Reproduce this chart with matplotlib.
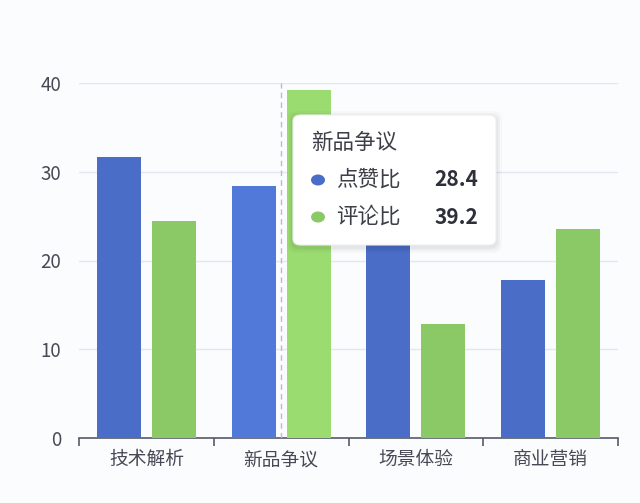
import matplotlib.pyplot as plt
import numpy as np
from matplotlib.patches import FancyBboxPatch, Circle

plt.rcParams['font.family'] = ['Noto Sans CJK SC', 'DejaVu Sans']

categories = ['技术解析', '新品争议', '场景体验', '商业营销']
likes = [31.7, 28.4, 26.0, 17.8]      # 点赞比
comments = [24.5, 39.2, 12.8, 23.5]   # 评论比
yticks = [0, 10, 20, 30, 40]
hover = 1  # highlighted category

blue, green = '#4a6dc8', '#8bc866'
blue_hi, green_hi = '#5079d9', '#9bdc71'

fig = plt.figure(figsize=(6.4, 5.03), dpi=100)
fig.patch.set_facecolor('#fbfcfe')
ax = fig.add_axes([79 / 640, 65 / 503, 539 / 640, 355 / 503])
ax.set_facecolor('#fbfcfe')

x = np.arange(len(categories))
w = 0.327
off = 0.204
bc = [blue_hi if i == hover else blue for i in x]
gc = [green_hi if i == hover else green for i in x]
ax.bar(x - off, likes, w, color=bc, zorder=3)
ax.bar(x + off, comments, w, color=gc, zorder=3)

ax.set_xlim(-0.5, len(categories) - 0.5)
ax.set_ylim(0, 40)
ax.set_yticks(yticks)
ax.set_yticklabels([str(v) for v in yticks])
ax.grid(axis='y', color='#e3e7f0', linewidth=1, zorder=0)

# axis pointer
ax.plot([hover, hover], [0, 40], color='#b9bcc8', linestyle=(0, (4, 3)),
        linewidth=1, zorder=4)

ax.set_xticks(x)
ax.set_xticklabels(categories)
ax.set_xticks(np.arange(len(categories) + 1) - 0.5, minor=True)
ax.tick_params(axis='x', which='major', length=0, pad=8, labelsize=13.5,
               labelcolor='#474a55')
ax.tick_params(axis='x', which='minor', length=6, width=1.2, color='#555a66')
ax.tick_params(axis='y', length=0, pad=13, labelsize=13.5, labelcolor='#474a55')
for s in ['top', 'right', 'left']:
    ax.spines[s].set_visible(False)
ax.spines['bottom'].set_color('#555a66')
ax.spines['bottom'].set_linewidth(1.2)

# tooltip
H = 503
def fy(py):
    return (H - py) / H

for d, a in [(6, 0.02), (4, 0.03), (2, 0.04)]:
    fig.patches.append(FancyBboxPatch((293 / 640 - d / 640, fy(247 + d)),
                                      (203 + 2 * d) / 640, (130 + 2 * d) / H,
                                      boxstyle='round,pad=0,rounding_size=0.014',
                                      transform=fig.transFigure, facecolor='black',
                                      edgecolor='none', alpha=a, zorder=5))
fig.patches.append(FancyBboxPatch((293 / 640, fy(245)), 203 / 640, 130 / H,
                                  boxstyle='round,pad=0,rounding_size=0.012',
                                  transform=fig.transFigure, facecolor='white',
                                  edgecolor='#eeeeee', linewidth=0.8, zorder=6))
fig.text(311 / 640, fy(143), categories[hover], fontsize=15.5, color='#3d3f48',
         va='center', ha='left', zorder=7)
rows = [('点赞比', likes[hover], blue), ('评论比', comments[hover], green)]
for i, (name, val, col) in enumerate(rows):
    yy = fy(180 + 37 * i)
    fig.patches.append(Circle((318 / 640, yy), 7 / 640, transform=fig.transFigure,
                              facecolor=col, edgecolor='none', zorder=7))
    fig.text(336 / 640, yy, name, fontsize=15.5, color='#3d3f48',
             va='center', ha='left', zorder=7)
    fig.text(478 / 640, yy, f'{val:.1f}', fontsize=15, color='#2e3039',
             fontweight='bold', va='center', ha='right', zorder=7)

fig.savefig('out.png', dpi=100, facecolor=fig.get_facecolor())
